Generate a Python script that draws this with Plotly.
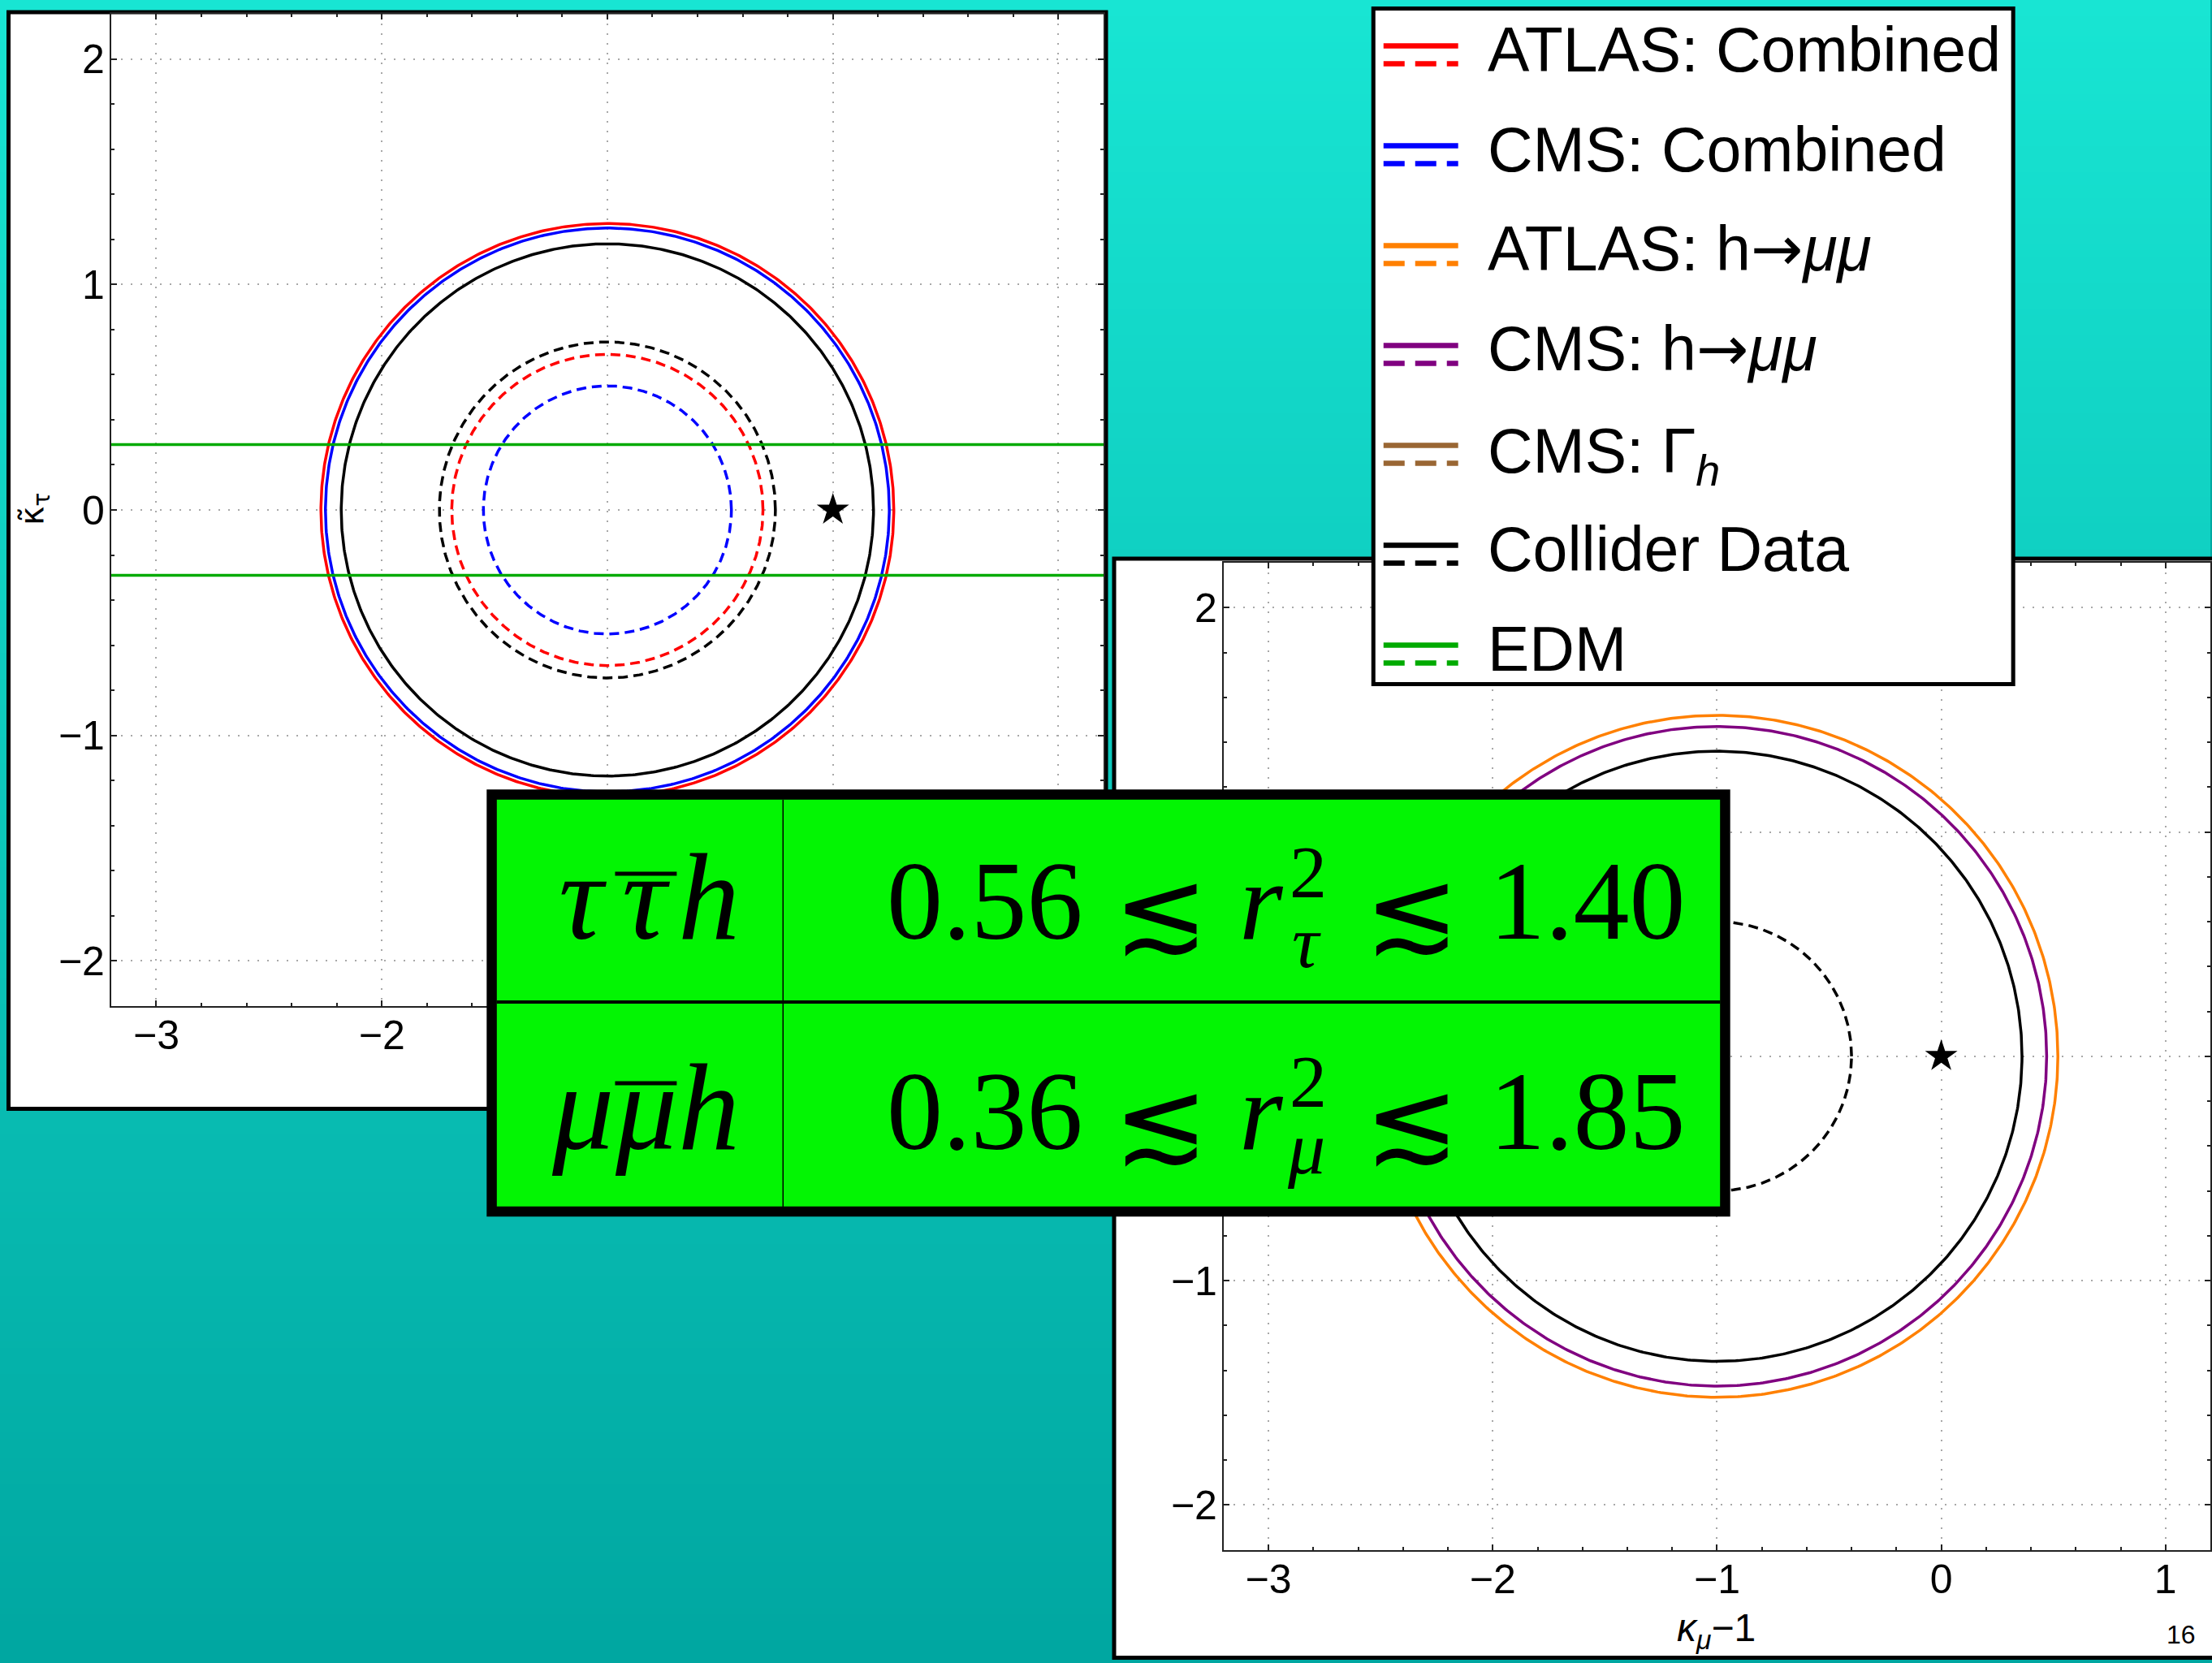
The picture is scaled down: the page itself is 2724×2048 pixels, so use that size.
import base64
import struct
import zlib

import numpy as np
import plotly.graph_objects as go

W, H = 2724, 2048

# ---------------- data ----------------
circle_center = [-1.0, 0.0]
sm_point = [0.0, 0.0]

# tau panel: allowed regions (radii around the centre)
tau_solid_names = ["ATLAS: Combined", "CMS: Combined", "Collider Data"]
tau_solid_radii = [1.27, 1.25, 1.18]
tau_dashed_names = ["Collider Data", "ATLAS: Combined", "CMS: Combined"]
tau_dashed_radii = [0.745, 0.69, 0.55]
edm_tau_bounds = [-0.29, 0.29]

# muon panel
mu_solid_names = ["ATLAS: h→μμ", "CMS: h→μμ", "Collider Data"]
mu_solid_radii = [1.52, 1.47, 1.36]
mu_dashed_names = ["Collider Data"]
mu_dashed_radii = [0.60]

x_range = [-3.2, 1.2]
y_range = [-2.2, 2.2]

ARROW = '<span style="font-family:DejaVu Sans">→</span>'
legend_labels = ["ATLAS: Combined", "CMS: Combined", "ATLAS: h" + ARROW + "<i>μμ</i>",
                 "CMS: h" + ARROW + "<i>μμ</i>", "CMS: Γ<sub><i>h</i></sub>",
                 "Collider Data", "EDM"]
legend_keys = ["ATLAS: Combined", "CMS: Combined", "ATLAS: h→μμ",
               "CMS: h→μμ", "CMS: Γh", "Collider Data", "EDM"]

table_particles = ["τ", "μ"]
table_lower = ["0.56", "0.36"]
table_upper = ["1.40", "1.85"]

page_number = "16"

# ---------------- styles ----------------
COLORS = {
    "ATLAS: Combined": "#FF0000",
    "CMS: Combined": "#0000FF",
    "ATLAS: h→μμ": "#FF8000",
    "CMS: h→μμ": "#800080",
    "CMS: Γh": "#996633",
    "Collider Data": "#000000",
    "EDM": "#00AA00",
}
SANS = "Liberation Sans, Arial, sans-serif"
SERIF = "Liberation Serif, Times New Roman, serif"


def px(x):
    return x / W


def py(y):
    return 1 - y / H


def gradient_png(top, bottom, n=256):
    raw = b""
    for i in range(n):
        t = i / (n - 1)
        c = [int(round(top[k] + (bottom[k] - top[k]) * t)) for k in range(3)]
        raw += b"\x00" + bytes(c)

    def chunk(tag, data):
        return (struct.pack(">I", len(data)) + tag + data
                + struct.pack(">I", zlib.crc32(tag + data) & 0xFFFFFFFF))

    png = (b"\x89PNG\r\n\x1a\n"
           + chunk(b"IHDR", struct.pack(">IIBBBBB", 1, n, 8, 2, 0, 0, 0))
           + chunk(b"IDAT", zlib.compress(raw))
           + chunk(b"IEND", b""))
    return "data:image/png;base64," + base64.b64encode(png).decode()


theta = np.linspace(0, 2 * np.pi, 721)


def circle_trace(r, color, dashed, xa, ya):
    return go.Scatter(
        x=circle_center[0] + r * np.cos(theta),
        y=circle_center[1] + r * np.sin(theta),
        mode="lines",
        line=dict(color=color, width=3.5, dash="12px,7px" if dashed else "solid"),
        xaxis=xa, yaxis=ya, showlegend=False, hoverinfo="skip",
    )


fig = go.Figure()

# tau panel
for name, r in zip(tau_solid_names, tau_solid_radii):
    fig.add_trace(circle_trace(r, COLORS[name], False, "x", "y"))
for name, r in zip(tau_dashed_names, tau_dashed_radii):
    fig.add_trace(circle_trace(r, COLORS[name], True, "x", "y"))
for yb in edm_tau_bounds:
    fig.add_trace(go.Scatter(x=x_range, y=[yb, yb], mode="lines",
                             line=dict(color=COLORS["EDM"], width=3.5),
                             xaxis="x", yaxis="y", showlegend=False, hoverinfo="skip"))
fig.add_trace(go.Scatter(x=[sm_point[0]], y=[sm_point[1]], mode="markers",
                         marker=dict(symbol="star", size=30, color="black"),
                         xaxis="x", yaxis="y", showlegend=False, hoverinfo="skip"))

# muon panel
for name, r in zip(mu_solid_names, mu_solid_radii):
    fig.add_trace(circle_trace(r, COLORS[name], False, "x2", "y2"))
for name, r in zip(mu_dashed_names, mu_dashed_radii):
    fig.add_trace(circle_trace(r, COLORS[name], True, "x2", "y2"))
fig.add_trace(go.Scatter(x=[sm_point[0]], y=[sm_point[1]], mode="markers",
                         marker=dict(symbol="star", size=30, color="black"),
                         xaxis="x2", yaxis="y2", showlegend=False, hoverinfo="skip"))


def axis_style(rng, domain, anchor, standoff):
    return dict(
        range=rng, domain=domain, anchor=anchor,
        showline=True, linecolor="#222222", linewidth=2, mirror="ticks",
        ticks="inside", ticklen=7, tickwidth=2, tickcolor="#222222",
        tickmode="linear", tick0=0, dtick=1,
        minor=dict(ticks="inside", ticklen=4, tickwidth=1.5, tickcolor="#222222",
                   dtick=0.2, tick0=0, showgrid=False),
        showgrid=True, gridcolor="#a8a8a8", gridwidth=2, griddash="2px,10px",
        zeroline=False, ticklabelstandoff=standoff,
        tickfont=dict(family=SANS, size=50, color="black"),
        fixedrange=True,
    )


L_dom_x = [px(137), px(1360)]
L_dom_y = [py(1239), py(17)]
R_dom_x = [px(1508), 1.0]
R_dom_y = [py(1908.6), py(693)]

shapes = []
annotations = []

# panel frames (white cards)
shapes.append(dict(type="rect", xref="paper", yref="paper", layer="below",
                   x0=px(10.5), x1=px(1363), y0=py(15), y1=py(1365.5),
                   fillcolor="white", line=dict(color="black", width=5)))
shapes.append(dict(type="rect", xref="paper", yref="paper", layer="below",
                   x0=px(1373), x1=px(2750), y0=py(688), y1=py(2041.5),
                   fillcolor="white", line=dict(color="black", width=5)))

# axis titles
annotations.append(dict(text="κ\u0303<sub>τ</sub>", xref="paper", yref="paper",
                        x=px(42), y=py(627), xanchor="center", yanchor="middle",
                        textangle=-90, showarrow=False,
                        font=dict(family="DejaVu Sans", size=40, color="black")))
annotations.append(dict(text="<i>κ</i><sub><i>μ</i></sub>−1", xref="paper", yref="paper",
                        x=px(2115), y=py(2008), xanchor="center", yanchor="middle",
                        showarrow=False, font=dict(family=SANS, size=48, color="black")))
annotations.append(dict(text=page_number, xref="paper", yref="paper",
                        x=px(2688), y=py(2013), xanchor="center", yanchor="middle",
                        showarrow=False, font=dict(family=SANS, size=32, color="black")))

# legend box
shapes.append(dict(type="rect", xref="paper", yref="paper", layer="above",
                   x0=px(1692.5), x1=px(2481), y0=py(10.5), y1=py(842.5),
                   fillcolor="white", line=dict(color="black", width=5)))
for i, (key, label) in enumerate(zip(legend_keys, legend_labels)):
    cy = 60.5 + 123 * i
    col = COLORS[key]
    shapes.append(dict(type="line", xref="paper", yref="paper", layer="above",
                       x0=px(1705), x1=px(1797), y0=py(cy - 4), y1=py(cy - 4),
                       line=dict(color=col, width=6.5)))
    shapes.append(dict(type="line", xref="paper", yref="paper", layer="above",
                       x0=px(1705), x1=px(1797), y0=py(cy + 18), y1=py(cy + 18),
                       line=dict(color=col, width=6.5, dash="26px,13px")))
    yoff = 8 if "sub" in label else 0
    annotations.append(dict(text=label, xref="paper", yref="paper",
                            x=px(1831), y=py(cy + yoff), xanchor="left", yanchor="middle",
                            showarrow=False, font=dict(family=SANS, size=77, color="black")))

# result table
shapes.append(dict(type="rect", xref="paper", yref="paper", layer="above",
                   x0=px(606), x1=px(2126), y0=py(978.5), y1=py(1492),
                   fillcolor="#03F503", line=dict(color="black", width=12.5)))
shapes.append(dict(type="line", xref="paper", yref="paper", layer="above",
                   x0=px(612), x1=px(2120), y0=py(1234), y1=py(1234),
                   line=dict(color="black", width=4)))
shapes.append(dict(type="line", xref="paper", yref="paper", layer="above",
                   x0=px(965), x1=px(965), y0=py(985), y1=py(1486),
                   line=dict(color="black", width=1.5)))


def tann(text, x, y, size, family=SERIF):
    annotations.append(dict(text=text, xref="paper", yref="paper", x=px(x), y=py(y),
                            xanchor="center", yanchor="middle", showarrow=False,
                            font=dict(family=family, size=size, color="black")))


for row in range(2):
    base = 1156 if row == 0 else 1415
    mid = base - 0.3375 * 138
    p = table_particles[row]
    # channel: particle, antiparticle (barred) and Higgs
    cmid = base - 0.3375 * 152
    tann("<i>" + p + "</i>", 718, cmid, 152)
    tann("<i>" + p + "</i>", 796, cmid, 152)
    tann("<i>h</i>", 874, cmid, 152)
    bar_y = 1076 if row == 0 else 1334
    shapes.append(dict(type="line", xref="paper", yref="paper", layer="above",
                       x0=px(758), x1=px(834), y0=py(bar_y), y1=py(bar_y),
                       line=dict(color="black", width=5)))
    # bounds on r^2
    tann(table_lower[row], 1214, mid, 138)
    tann("≲", 1431, base - 35, 140, "DejaVu Serif")
    tann("<i>r</i>", 1555, mid, 138)
    sup_base = 1105 if row == 0 else 1363
    tann("2", 1612, sup_base - 31, 92)
    sub_base = 1191 if row == 0 else 1445
    tann("<i>" + p + "</i>", 1610, sub_base - 31, 92)
    tann("≲", 1740, base - 35, 140, "DejaVu Serif")
    tann(table_upper[row], 1956, mid, 138)

fig.update_layout(
    width=W, height=H, autosize=False,
    margin=dict(l=0, r=0, t=0, b=0, pad=0),
    paper_bgcolor="#00A8A2", plot_bgcolor="rgba(0,0,0,0)",
    xaxis=axis_style(x_range, L_dom_x, "y", -9),
    yaxis=axis_style(y_range, L_dom_y, "x", -4),
    xaxis2=axis_style(x_range, R_dom_x, "y2", -9),
    yaxis2=axis_style(y_range, R_dom_y, "x2", -4),
    shapes=shapes,
    annotations=annotations,
    images=[dict(source=gradient_png((24, 229, 211), (0, 167, 161)),
                 xref="paper", yref="paper", x=0, y=1, sizex=1, sizey=1,
                 xanchor="left", yanchor="top", sizing="stretch", layer="below")],
    showlegend=False,
)

fig.write_html("out.html")
